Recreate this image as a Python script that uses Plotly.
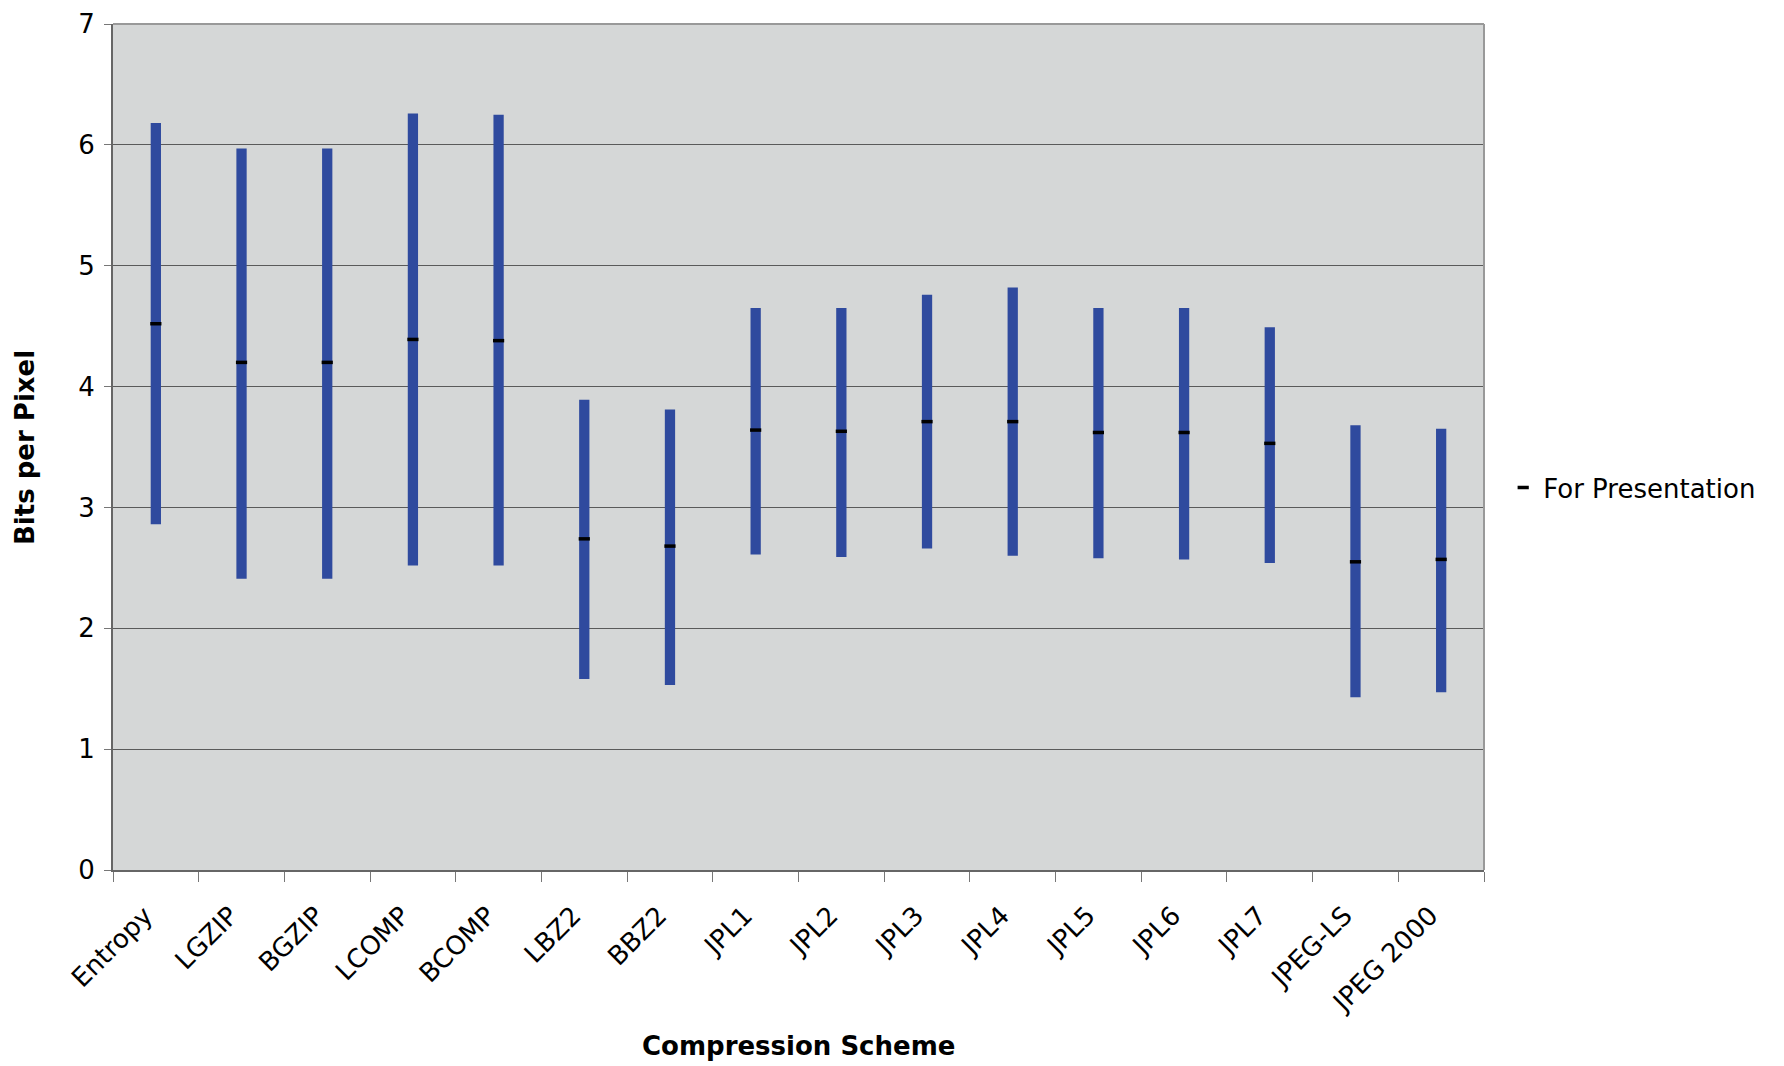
import plotly.graph_objects as go

schemes = ["Entropy", "LGZIP", "BGZIP", "LCOMP", "BCOMP", "LBZ2", "BBZ2", "JPL1",
           "JPL2", "JPL3", "JPL4", "JPL5", "JPL6", "JPL7", "JPEG-LS", "JPEG 2000"]
high = [6.18, 5.97, 5.97, 6.26, 6.25, 3.89, 3.81, 4.65,
        4.65, 4.76, 4.82, 4.65, 4.65, 4.49, 3.68, 3.65]
low = [2.86, 2.41, 2.41, 2.52, 2.52, 1.58, 1.53, 2.61,
       2.59, 2.66, 2.60, 2.58, 2.57, 2.54, 1.43, 1.47]
presentation = [4.52, 4.20, 4.20, 4.39, 4.38, 2.74, 2.68, 3.64,
                3.63, 3.71, 3.71, 3.62, 3.62, 3.53, 2.55, 2.57]

font = "DejaVu Sans"

fig = go.Figure()

# range bars, low to high
fig.add_trace(go.Bar(
    x=schemes,
    y=[h - l for h, l in zip(high, low)],
    base=low,
    width=0.12,
    marker=dict(color="#2f4a9e", line=dict(width=0)),
    showlegend=False,
    hoverinfo="skip"))

fig.add_trace(go.Scatter(
    x=schemes,
    y=presentation,
    mode="markers",
    marker=dict(symbol="line-ew", size=8, line=dict(color="black", width=3.5)),
    name="For Presentation"))

fig.update_layout(
    width=1784, height=1066,
    margin=dict(l=105, r=308, t=16, b=204),
    paper_bgcolor="white",
    plot_bgcolor="#d5d7d7",
    font=dict(family=font, color="black", size=26),
    showlegend=True,
    legend=dict(x=1.014, y=0.452, xanchor="left", yanchor="middle",
                font=dict(size=26), bgcolor="rgba(0,0,0,0)", itemwidth=30),
    xaxis=dict(
        range=[-0.5, len(schemes) - 0.5],
        automargin=False,
        tickangle=-45,
        tickfont=dict(size=26),
        tickson="boundaries",
        ticks="outside", ticklen=10, tickcolor="#777",
        ticklabelshift=-11, ticklabelstandoff=18,
        showline=True, linecolor="#666", linewidth=2,
        showgrid=False,
    ),
    yaxis=dict(
        range=[0, 7], dtick=1,
        automargin=False,
        tickfont=dict(size=26),
        ticks="outside", ticklen=7, tickcolor="#777",
        ticklabelstandoff=4, ticklabeloverflow="allow",
        showline=True, linecolor="#666", linewidth=2,
        showgrid=True, gridcolor="#5a5a5a", gridwidth=1,
        zeroline=False,
    ),
    annotations=[
        dict(text="<b>Compression Scheme</b>", xref="paper", yref="paper",
             x=0.5, y=-0.208, xanchor="center", yanchor="middle",
             showarrow=False, font=dict(size=26)),
        dict(text="<b>Bits per Pixel</b>", xref="paper", yref="paper",
             x=-0.0642, y=0.5, xanchor="center", yanchor="middle",
             textangle=-90, showarrow=False, font=dict(size=26)),
    ],
)

# light border on the top and right of the plot area
fig.add_shape(type="line", xref="paper", yref="paper", x0=0, x1=1, y0=1, y1=1,
              line=dict(color="#999", width=2))
fig.add_shape(type="line", xref="paper", yref="paper", x0=1, x1=1, y0=0, y1=1,
              line=dict(color="#999", width=2))

fig.write_html("out.html")
